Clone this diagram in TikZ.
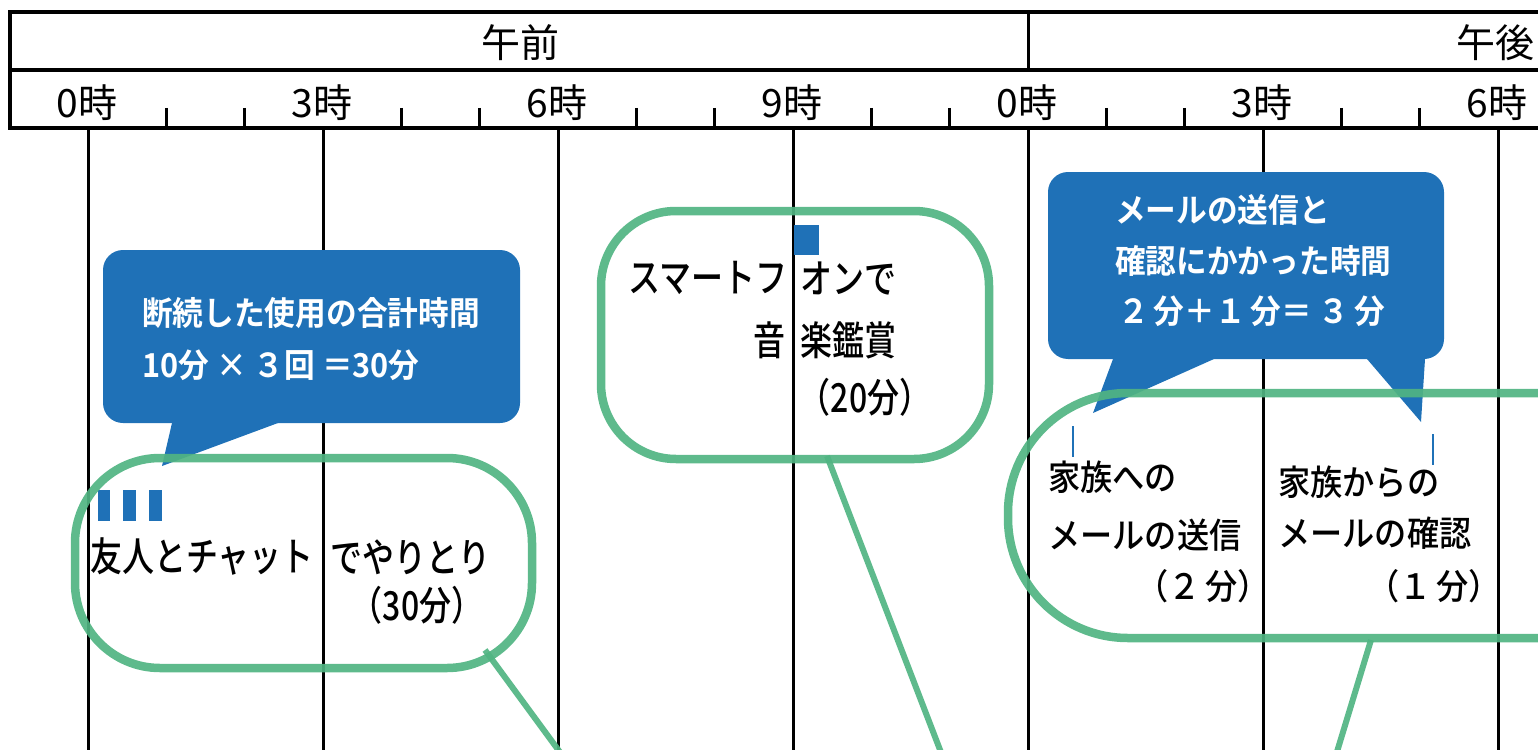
\documentclass[tikz,border=0pt]{standalone}
\usepackage{fontspec}
\newfontfamily\jpfont{Noto Sans CJK JP}
\newfontfamily\jpnarrow[FakeStretch=0.8]{Noto Sans CJK JP Medium}
\newfontfamily\jpmid[FakeStretch=0.92]{Noto Sans CJK JP Medium}
\newfontfamily\jpbold[FakeStretch=0.93]{Noto Sans CJK JP Bold}
\usepackage{tikz}
\usetikzlibrary{positioning}
\definecolor{callblue}{RGB}{31,113,183}
\definecolor{ringgreen}{RGB}{80,180,130}

\begin{document}
\begin{tikzpicture}[x=1pt,y=-1pt]
\useasboundingbox (0,0) rectangle (1538,749);
\clip (0,0) rectangle (1538,749);

\tikzstyle{hour}=[font=\jpfont\fontsize{39}{42}\selectfont, inner sep=0pt]
\tikzstyle{grid}=[line width=3pt]
\tikzstyle{callout}=[rectangle, rounded corners=20pt, fill=callblue, inner sep=0pt]
\tikzstyle{calltext}=[font=\jpbold\fontsize{33}{36}\selectfont, text=white, inner sep=0pt, anchor=west]
\tikzstyle{ring}=[rectangle, draw=ringgreen, line width=8.5pt, draw opacity=0.92, inner sep=0pt]
\tikzstyle{lead}=[draw=ringgreen, line width=6pt, draw opacity=0.92]
\tikzstyle{memo}=[font=\jpnarrow\fontsize{40}{44}\selectfont, inner sep=0pt]
\tikzstyle{memo2}=[font=\jpmid\fontsize{35}{38}\selectfont, inner sep=0pt]

% grid of hours
\foreach \x in {88,323,558,793,1028,1263,1498}
  \draw[grid] (\x,128) -- (\x,760);
\foreach \h in {1,2,4,5,7,8,10,11,13,14,16,17}
  \draw[grid] ({88+78.33*\h},108) -- ({88+78.33*\h},128);

% header
\draw[line width=3.5pt] (1560,12) -- (10,12) -- (10,128) -- (1560,128);
\draw[line width=3.5pt] (10,70) -- (1560,70);
\draw[grid] (1028,12) -- (1028,70);
\node[hour] (am) at (520,43) {午前};
\node[hour] (pm) at (1495,43) {午後};
\node[hour] (h0) at (87,103) {0時};
\node[hour] (h3) at (322,103) {3時};
\node[hour] (h6) at (557,103) {6時};
\node[hour] (h9) at (792,103) {9時};
\node[hour] (h12) at (1027,103) {0時};
\node[hour] (h15) at (1262,103) {3時};
\node[hour] (h18) at (1497,103) {6時};

% callouts
\node[callout, minimum width=417pt, minimum height=173pt] (c1) at (311.5,336.5) {};
\fill[callblue] (172,410) -- (172,423) -- (162,466) -- (278,423) -- (278,410) -- cycle;
\node[calltext] (c1a) at (142,313) {断続した使用の合計時間};
\node[calltext] (c1b) at (142,365) {10分 × ３回 ＝30分};

\node[callout, minimum width=396pt, minimum height=187pt] (c2) at (1246,265.5) {};
\fill[callblue] (1113,345) -- (1113,359) -- (1093,413) -- (1214,359) -- (1214,345) -- cycle;
\fill[callblue] (1367,345) -- (1367,359) -- (1421,422) -- (1425,359) -- (1425,345) -- cycle;
\node[calltext] (c2a) at (1115,210) {メールの送信と};
\node[calltext] (c2b) at (1115,261) {確認にかかった時間};
\node[calltext] (c2c) at (1118,311) {２\hspace{5pt}分＋１\hspace{5pt}分＝\hspace{6pt}３\hspace{5pt}分};

% time used
\fill[callblue] (98,490) rectangle (110,521);
\fill[callblue] (123,490) rectangle (136,521);
\fill[callblue] (149,490) rectangle (162,521);
\fill[callblue] (794,225) rectangle (819,255);
\draw[callblue, line width=2.5pt] (1073,426) -- (1073,457);
\draw[callblue, line width=1.8pt] (1433,434) -- (1433,465);

% rings
\node[ring, rounded corners=85pt, minimum width=457pt, minimum height=210pt] (g1) at (303.5,563) {};
\node[ring, rounded corners=75pt, minimum width=388pt, minimum height=248pt] (g2) at (795,335) {};
\node[ring, rounded corners=120pt, minimum width=692pt, minimum height=245pt] (g3) at (1354,515.5) {};

\coordinate (l1a) at (485,650);
\coordinate (l1b) at (562,755);
\coordinate (l2a) at (827,456);
\coordinate (l2b) at (942,755);
\coordinate (l3a) at (1371,640);
\coordinate (l3b) at (1336,755);
\draw[lead] (l1a) -- (l1b);
\draw[lead] (l2a) -- (l2b);
\draw[lead] (l3a) -- (l3b);

% texts
\node[memo, anchor=west] (chatL) at (90,557) {友人とチャット};
\node[memo, anchor=west] (chatR) at (330,557) {でやりとり};
\node[memo] (chatT) at (417,605) {（30分）};

\node[memo, anchor=east] (smL) at (788,278) {スマートフ};
\node[memo, anchor=west] (smR) at (800,278) {オンで};
\node[memo, anchor=east] (onL) at (786,340) {音};
\node[memo, anchor=west] (onR) at (800,340) {楽鑑賞};
\node[memo] (smT) at (865,397) {（20分）};

\node[memo2, anchor=west] (fam1) at (1048,477) {家族への};
\node[memo2, anchor=west] (fam1b) at (1048,535) {メールの送信};
\node[memo2] (fam1t) at (1203,586) {（２\hspace{4pt}分）};
\node[memo2, anchor=west] (fam2) at (1278,482) {家族からの};
\node[memo2, anchor=west] (fam2b) at (1278,533) {メールの確認};
\node[memo2] (fam2t) at (1434,586) {（１\hspace{4pt}分）};
\end{tikzpicture}
\end{document}
